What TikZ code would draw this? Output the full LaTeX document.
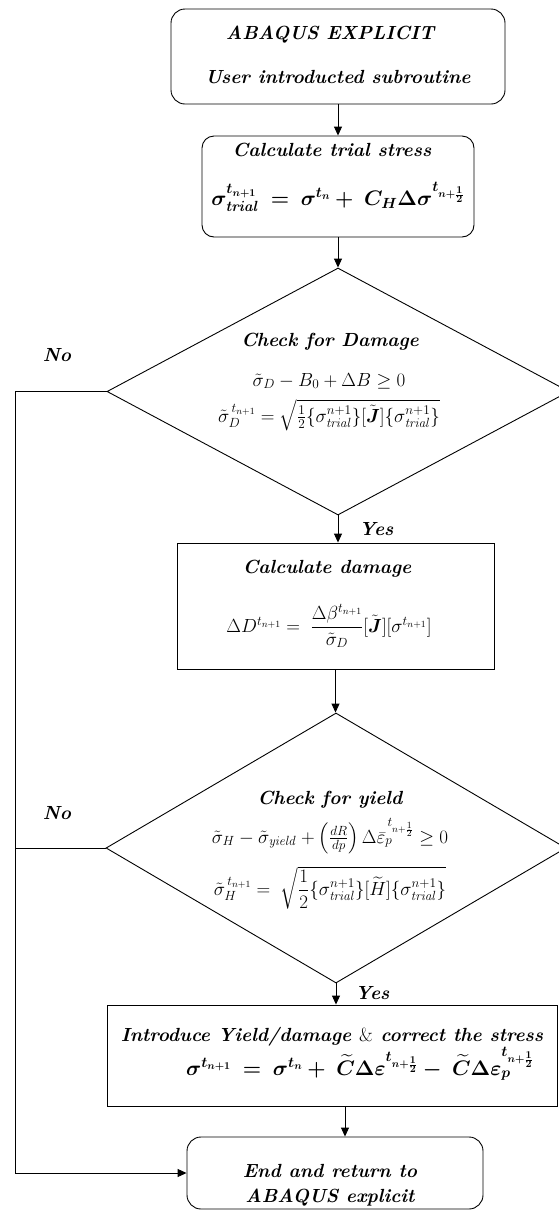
\RequirePackage{fix-cm}
\documentclass[tikz,border=0pt]{standalone}
\usepackage{amsmath}
\usetikzlibrary{arrows.meta,shapes.geometric,calc}

\begin{document}
\begin{tikzpicture}[x=1pt,y=-1pt,
  rbox/.style={draw,rounded corners=14pt,line width=0.9pt,inner sep=0pt},
  sbox/.style={draw,line width=0.9pt,inner sep=0pt},
  dec/.style={draw,diamond,line width=0.9pt,inner sep=0pt},
  hd/.style={font=\fontsize{19}{22}\selectfont\bfseries\itshape,anchor=base,inner sep=0pt},
  mth/.style={font=\fontsize{19}{22}\selectfont,anchor=base,inner sep=0pt},
  bmth/.style={font=\fontsize{21}{24}\selectfont,anchor=base,inner sep=0pt},
  ar/.style={-{Triangle[length=9pt,width=8pt]},line width=0.9pt}]

 \useasboundingbox (0,0) rectangle (559,1211);

 % shapes
 \node[rbox,minimum width=334pt,minimum height=95pt] (start) at (338,56.5) {};
 \node[rbox,minimum width=272pt,minimum height=101pt,rounded corners=12pt] (trial) at (338,186.5) {};
 \node[dec,minimum width=462pt,minimum height=247pt] (dmg) at (338,391.5) {};
 \node[sbox,minimum width=317pt,minimum height=126pt] (calc) at (335.5,606) {};
 \node[dec,minimum width=460pt,minimum height=270pt] (yld) at (336,848) {};
 \node[sbox,minimum width=450pt,minimum height=101pt] (corr) at (332,1055.5) {};
 \node[rbox,minimum width=296pt,minimum height=72pt] (fin) at (335,1173) {};

 % texts
 \node[hd] (abq) at (330,39) {ABAQUS EXPLICIT};
 \node[hd] (usr) at (338,83) {User introducted subroutine};
 \node[hd] (trialhd) at (332,156) {Calculate trial stress};
 \node[bmth] (trialeq) at (338,205) {$\boldsymbol{\sigma^{t_{n+1}}_{\mathit{trial}}} \mkern5mu\boldsymbol{=}\mkern5mu \boldsymbol{\sigma^{t_n}} \boldsymbol{+} \mkern5mu \boldsymbol{C_H\Delta\sigma^{t_{n+\frac{1}{2}}}}$};
 \node[hd] (dmghd) at (330,346) {Check for Damage};
 \node[mth] (dmgeqa) at (329,386) {$\tilde{\sigma}_D - B_0 + \Delta B \ge 0$};
 \node[mth] (dmgeqb) at (329,422) {$\tilde{\sigma}_D^{\,t_{n+1}} = \sqrt{\tfrac{1}{2}\{\sigma^{n+1}_{\mathit{trial}}\}[\tilde{\boldsymbol{J}}]\{\sigma^{n+1}_{\mathit{trial}}\}}$};
 \node[hd] (calchd) at (327,573) {Calculate damage};
 \node[mth] (calceq) at (329,632) {$\Delta D^{t_{n+1}} =\mkern5mu \dfrac{\Delta\beta^{t_{n+1}}}{\tilde{\sigma}_D}[\tilde{\boldsymbol{J}}][\sigma^{t_{n+1}}]$};
 \node[hd] (yldhd) at (330,804) {Check for yield};
 \node[mth] (yldeqa) at (330,843) {$\tilde{\sigma}_H - \tilde{\sigma}_{\mathit{yield}} + \left(\tfrac{dR}{dp}\right)\Delta\bar{\varepsilon}_p^{\,t_{n+\frac{1}{2}}} \ge 0$};
 \node[mth] (yldeqb) at (330,895) {$\tilde{\sigma}_H^{\,t_{n+1}} =\mkern5mu \sqrt{\dfrac{1}{2}\{\sigma^{n+1}_{\mathit{trial}}\}[\widetilde{H}]\{\sigma^{n+1}_{\mathit{trial}}\}}$};
 \node[hd] (corrhd) at (332,1041) {Introduce Yield/damage {\normalfont\&} correct the stress};
 \node[bmth] (correq) at (360,1075) {$\boldsymbol{\sigma^{t_{n+1}}} \mkern5mu\boldsymbol{=}\mkern5mu \boldsymbol{\sigma^{t_n}} \boldsymbol{+}\mkern5mu \boldsymbol{\widetilde{C}\Delta\varepsilon^{t_{n+\frac{1}{2}}}} \boldsymbol{-}\mkern5mu \boldsymbol{\widetilde{C}\Delta\varepsilon_p^{t_{n+\frac{1}{2}}}}$};
 \node[hd] (finA) at (330,1177) {End and return to};
 \node[hd] (finB) at (330,1202) {ABAQUS explicit};

 % labels
 \node[hd] (no1) at (57,361) {No};
 \node[hd] (no2) at (57,819) {No};
 \node[hd,anchor=base west] (yes1) at (359,535) {Yes};
 \node[hd,anchor=base west] (yes2) at (355,999) {Yes};

 % connectors
 \coordinate (rail) at (15,0);
 \coordinate (drop) at (345,0);
 \draw[ar] (start.south) -- (trial.north);
 \draw[ar] (trial.south) -- (dmg.north);
 \draw[ar] (dmg.south) -- (dmg.south |- calc.north);
 \draw[ar] (calc.south) -- (calc.south |- yld.north);
 \draw[ar] (yld.south) -- (yld.south |- corr.north);
 \draw[ar] (corr.south -| drop) -- (fin.north -| drop);
 \draw[ar] (dmg.west) -- (dmg.west -| rail) |- (fin.west);
 \draw[line width=0.9pt] (yld.west) -- (yld.west -| rail);
\end{tikzpicture}
\end{document}
